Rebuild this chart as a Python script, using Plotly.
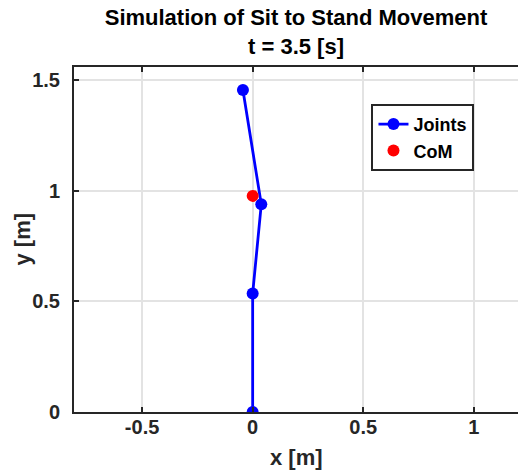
import plotly.graph_objects as go

# Joint positions of the body chain (ankle, knee, hip, shoulder/head) at t = 3.5 s
joint_x = [0.0, 0.0, 0.039, -0.044]
joint_y = [0.0, 0.535, 0.938, 1.454]

# Centre of mass
com_x = [0.0]
com_y = [0.976]

x_ticks = [-0.5, 0, 0.5, 1]
x_tick_text = ["-0.5", "0", "0.5", "1"]
y_ticks = [0, 0.5, 1, 1.5]
y_tick_text = ["0", "0.5", "1", "1.5"]

font_family = "Liberation Sans, Arial, sans-serif"
axis_color = "#262626"
grid_color = "#e3e3e3"

fig = go.Figure()
fig.add_trace(go.Scatter(
    x=joint_x, y=joint_y, mode="lines+markers", name="Joints",
    line=dict(color="#0000ff", width=2.8),
    marker=dict(color="#0000ff", size=12),
))
fig.add_trace(go.Scatter(
    x=com_x, y=com_y, mode="markers", name="CoM",
    marker=dict(color="#ff0000", size=12),
))

axis_common = dict(
    showline=True, linecolor=axis_color, linewidth=2,
    ticks="inside", ticklen=5, tickwidth=1.5, tickcolor=axis_color,
    showgrid=True, gridcolor=grid_color, gridwidth=2,
    zeroline=False,
    tickfont=dict(family=font_family, size=20, color=axis_color, weight="bold"),
)

fig.update_xaxes(
    range=[-0.808, 1.2], tickvals=x_ticks, ticktext=x_tick_text,
    mirror="ticks", ticklabelstandoff=-4,
    **axis_common,
)
fig.update_yaxes(
    range=[0, 1.558], tickvals=y_ticks, ticktext=y_tick_text,
    mirror=False, ticklabelstandoff=8,
    **axis_common,
)

label_font = dict(family=font_family, size=22, color=axis_color, weight="bold")

# Axis titles placed as annotations relative to the plot area
fig.add_annotation(
    text="x [m]", xref="paper", yref="paper", x=0.5, y=0,
    xanchor="center", yanchor="middle", yshift=-45,
    showarrow=False, font=label_font,
)
fig.add_annotation(
    text="y [m]", xref="paper", yref="paper", x=0, y=0.5,
    xanchor="center", yanchor="middle", xshift=-52, textangle=-90,
    showarrow=False, font=label_font,
)

fig.update_layout(
    width=518, height=471,
    margin=dict(l=74, r=0, t=67, b=59),
    paper_bgcolor="white", plot_bgcolor="white",
    title=dict(
        text="Simulation of Sit to Stand Movement<br>t = 3.5 [s]",
        x=0.5, xref="paper", xanchor="center",
        y=0.947, yref="container", yanchor="top",
        font=dict(family=font_family, size=22, color="#000000", weight="bold"),
    ),
    legend=dict(
        x=0.67, y=0.893, xanchor="left", yanchor="top",
        bgcolor="white", bordercolor=axis_color, borderwidth=2,
        font=dict(family=font_family, size=18, color="#000000", weight="bold"),
        tracegroupgap=0, itemwidth=30,
    ),
    showlegend=True,
)

fig.write_html("out.html")
